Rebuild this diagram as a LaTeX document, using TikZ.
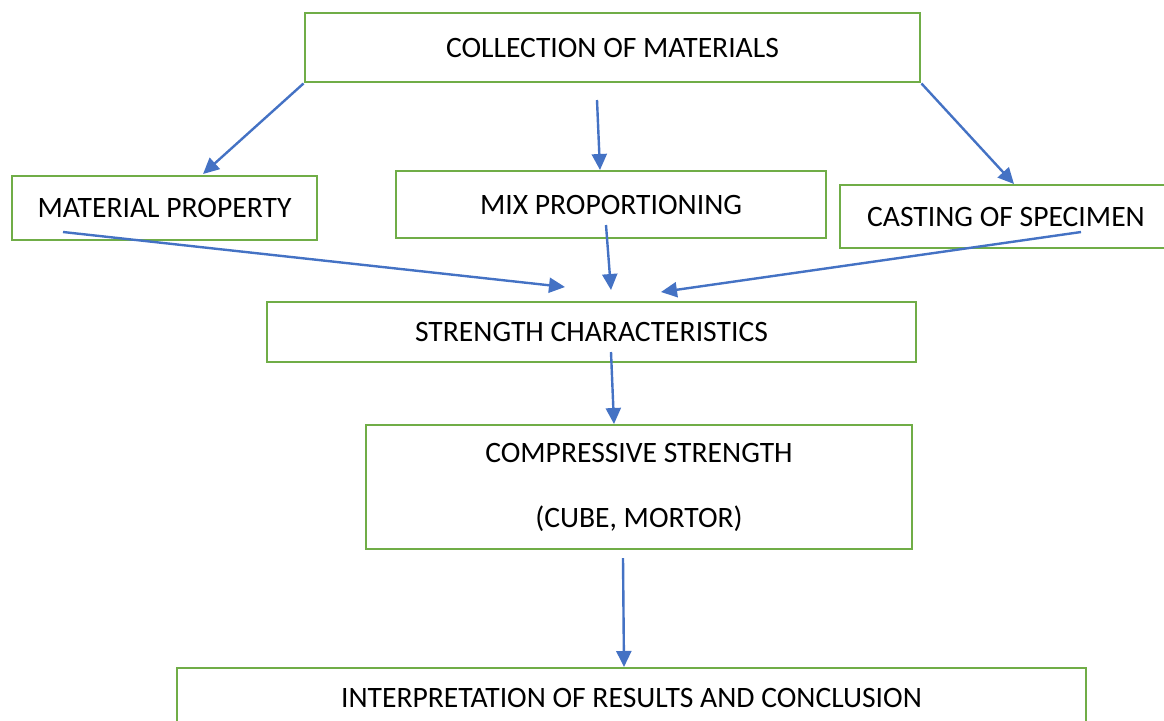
\documentclass[tikz,border=0pt]{standalone}
\usepackage{fontspec}
\setmainfont{Carlito}
\usetikzlibrary{arrows.meta}

\definecolor{boxgreen}{RGB}{112,173,71}
\definecolor{arrowblue}{RGB}{68,114,196}

\tikzset{box/.style={draw=boxgreen,line width=1.4pt,fill=white,inner sep=0pt},
         flow/.style={draw=arrowblue,line width=1.2pt,->}}

\begin{document}
\begin{tikzpicture}[x=0.5pt,y=-0.5pt,  % one unit = one pixel
                    >={Triangle[length=8pt,width=7.5pt]},
                    font=\fontsize{14.8}{17.8}\selectfont]

\useasboundingbox (0,0) rectangle (1164,720);
\clip (0,0) rectangle (1164,720);

%%%% boxes
\node[box,minimum width=307.5pt,minimum height=34.5pt] (coll) at (612.5,47.5) {COLLECTION OF MATERIALS};

\node[box,minimum width=152.5pt,minimum height=32pt] (matprop) at (164.5,208) {MATERIAL PROPERTY};
\node[box,minimum width=215pt,minimum height=33.5pt] (mix) at (611,204.5) {MIX PROPORTIONING};
\node[box,minimum width=166pt,minimum height=31.5pt] (cast) at (1006,216.5) {CASTING OF SPECIMEN};

\node[box,minimum width=324.5pt,minimum height=30pt] (strength) at (591.5,332) {STRENGTH CHARACTERISTICS};

\node[box,minimum width=273pt,minimum height=62pt,align=center,
      font=\fontsize{14.8}{32.5}\selectfont] (comp) at (639,487) {COMPRESSIVE STRENGTH\\(CUBE, MORTOR)};

\node[box,minimum width=454.5pt,minimum height=30pt] (interp) at (631.5,698) {INTERPRETATION OF RESULTS AND CONCLUSION};

%%%% arrow ends
\coordinate (matprop in) at (203,174);
\coordinate (mix out) at (597,100);
\coordinate (mix in) at (600,170);
\coordinate (cast in) at (1014,184);

\coordinate (matprop out) at (63,232);
\coordinate (mix down) at (606,225);
\coordinate (cast out) at (1081,232);
\coordinate (strength in1) at (565,287);
\coordinate (strength in2) at (611,290);
\coordinate (strength in3) at (661,292);

\coordinate (strength out) at (611,352);
\coordinate (comp in) at (614,424);
\coordinate (comp out) at (623,558);
\coordinate (interp in) at (624,667);

%% ARROWS
\draw[flow] (coll.south west) -- (matprop in);
\draw[flow] (mix out) -- (mix in);
\draw[flow] (coll.south east) -- (cast in);

\draw[flow] (matprop out) -- (strength in1);
\draw[flow] (mix down) -- (strength in2);
\draw[flow] (cast out) -- (strength in3);

\draw[flow] (strength out) -- (comp in);
\draw[flow] (comp out) -- (interp in);

\end{tikzpicture}
\end{document}
